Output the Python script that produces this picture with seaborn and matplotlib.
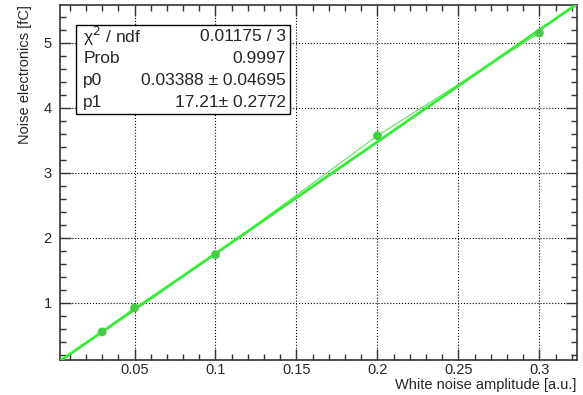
import numpy as np
import pandas as pd
import seaborn as sns
import matplotlib.pyplot as plt
from matplotlib.ticker import MultipleLocator

# data
amp = [0.03, 0.05, 0.1, 0.2, 0.3]
noise = [0.55, 0.92, 1.74, 3.57, 5.15]
p0, p0_err = 0.03388, 0.04695
p1, p1_err = 17.21, 0.2772
chi2, ndf, prob = 0.01175, 3, 0.9997

df = pd.DataFrame({'amp': amp, 'noise': noise})

sns.set_style('ticks')
plt.rcParams['font.family'] = ['Liberation Sans', 'DejaVu Sans']

fig = plt.figure(figsize=(5.83, 3.95), dpi=100)
ax = fig.add_axes([0.103, 0.089, 0.886, 0.898])
xlim = (0.004, 0.323)
ylim = (0.12, 5.58)

# fit line over the full range
xf = np.linspace(xlim[0], xlim[1], 50)
fit = pd.DataFrame({'x': xf, 'y': p0 + p1 * xf})
sns.lineplot(data=fit, x='x', y='y', ax=ax, color='#33ee33', lw=2.0, zorder=3)
sns.lineplot(data=df, x='amp', y='noise', ax=ax, color='#66dd66', lw=0.8, zorder=2)
sns.scatterplot(data=df, x='amp', y='noise', ax=ax, color='#44cc44', s=40,
                edgecolor='none', zorder=4)

ax.set_xlim(xlim)
ax.set_ylim(ylim)
ax.xaxis.set_major_locator(MultipleLocator(0.05))
ax.xaxis.set_minor_locator(MultipleLocator(0.01))
ax.yaxis.set_major_locator(MultipleLocator(1))
ax.yaxis.set_minor_locator(MultipleLocator(0.2))
ax.tick_params(which='both', direction='in', top=True, right=True, labelsize=10.5,
               color='#333333', width=1)
ax.tick_params(which='major', length=8)
ax.tick_params(which='minor', length=4)
ax.tick_params(axis='x', which='major', pad=2)
ax.tick_params(axis='y', which='major', pad=6)
ax.grid(True, which='major', ls=':', color='black', lw=0.8)
for s in ax.spines.values():
    s.set_color('#333333')
    s.set_linewidth(1.2)

ax.set_xlabel('White noise amplitude [a.u.]', fontsize=10.5, loc='right', labelpad=1)
ax.set_ylabel('Noise electronics [fC]', fontsize=10.5, loc='top', labelpad=8)
ax.xaxis.set_major_formatter(plt.FuncFormatter(lambda v, p: f'{v:g}'))

# stats box
bx0, bx1, by0, by1 = 0.031, 0.445, 0.693, 0.944
ax.add_patch(plt.Rectangle((bx0, by0), bx1 - bx0, by1 - by0, transform=ax.transAxes,
                           facecolor='white', edgecolor='black', lw=1.0, zorder=5))
rows = [('χ$^{2}$ / ndf', f'{chi2} / {ndf}'),
        ('Prob', f'{prob}'),
        ('p0', f'{p0} ± {p0_err}'),
        ('p1', f'{p1}± {p1_err}')]
h = (by1 - by0) / len(rows)
for i, (k, v) in enumerate(rows):
    yy = by1 - h * (i + 0.5)
    ax.text(bx0 + 0.014, yy, k, transform=ax.transAxes, fontsize=12.5, va='center',
            ha='left', zorder=6)
    ax.text(bx1 - 0.008, yy, v, transform=ax.transAxes, fontsize=12.5, va='center',
            ha='right', zorder=6)

fig.savefig('out.png', dpi=100)
